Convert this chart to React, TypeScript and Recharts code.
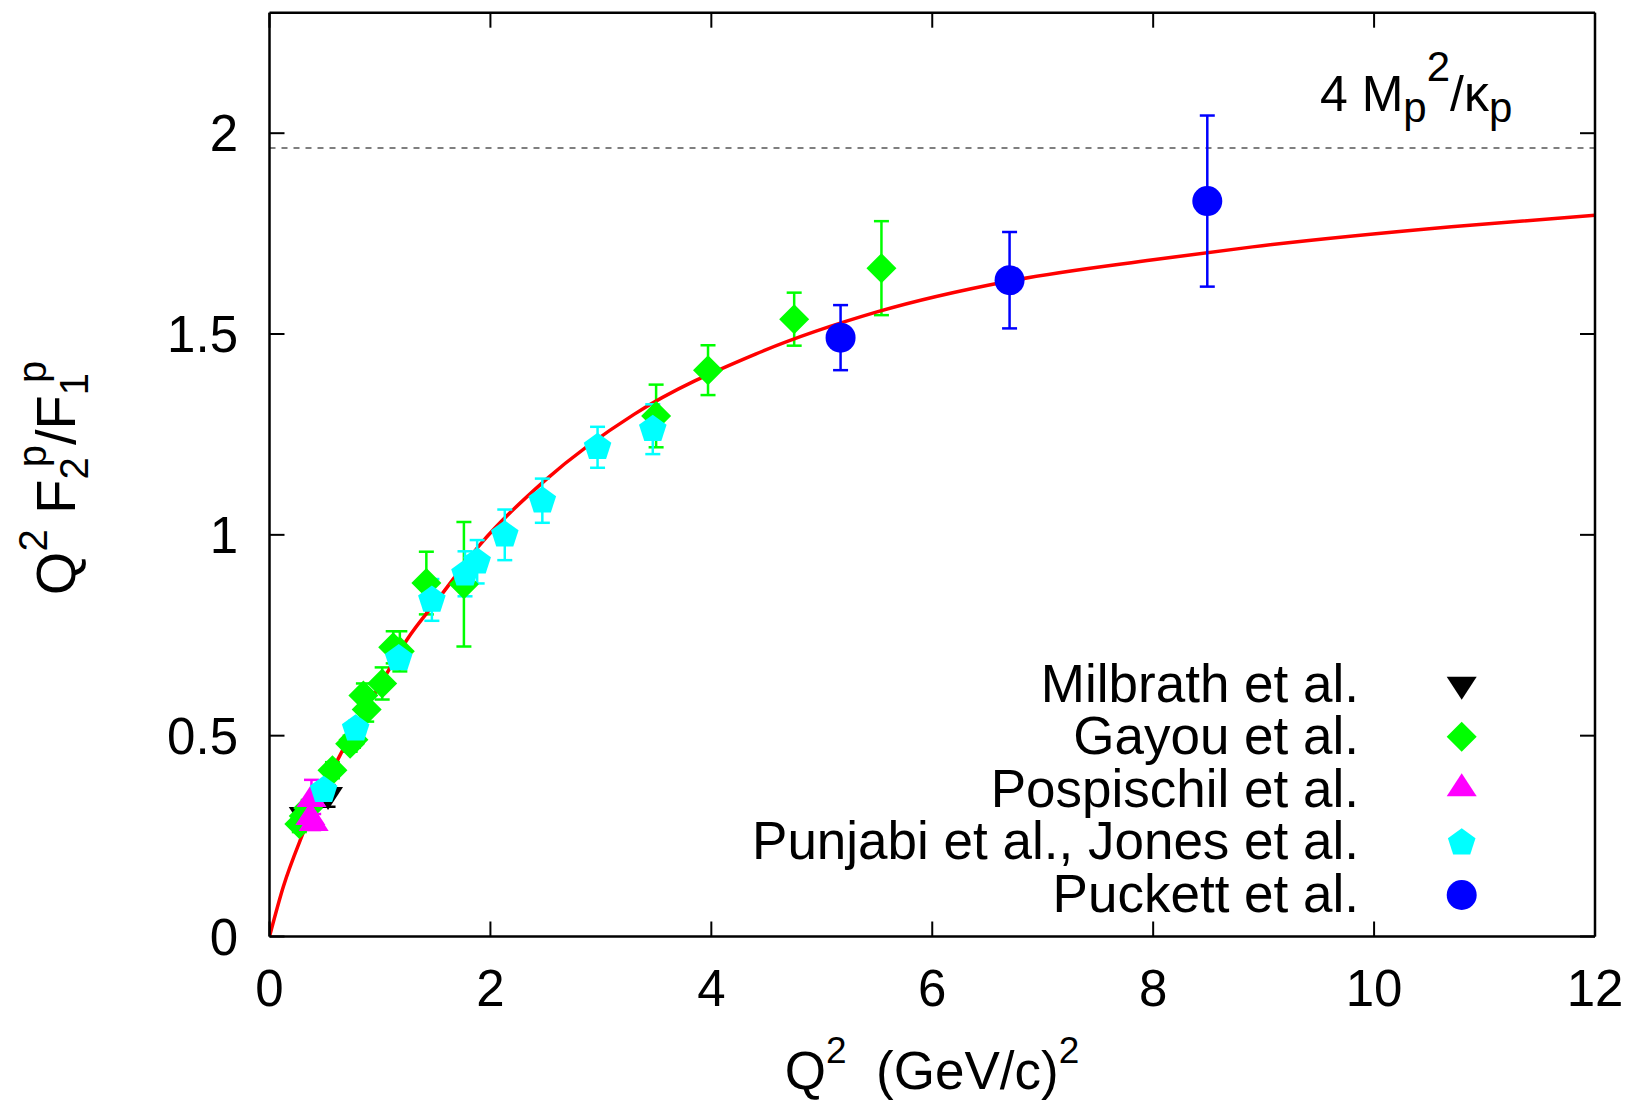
import React from 'react';
import {
  ComposedChart,
  XAxis,
  YAxis,
  Line,
  Scatter,
  ErrorBar,
  ReferenceLine,
  Legend,
  Label,
} from 'recharts';

const FONT = '"Liberation Sans", Arial, Helvetica, sans-serif';

// ---- data ----
const xTicks = [0, 2, 4, 6, 8, 10, 12];
const yTicks = [0, 0.5, 1, 1.5, 2];
const limitValue = 1.963; // 4 Mp^2 / kappa_p

const fitQ2 = [0, 0.125, 0.29, 0.67, 1.06, 1.24, 1.54, 1.91, 2.5, 3.3, 4.4, 5.5, 6.7, 8.0, 8.9, 10.7, 12];
const fitRatio = [0, 0.124, 0.248, 0.468, 0.654, 0.737, 0.845, 0.977, 1.137, 1.3, 1.45, 1.555, 1.632, 1.685, 1.717, 1.767, 1.796];

const milbrathQ2 = [0.31, 0.53];
const milbrathRatio = [0.3, 0.35];
const milbrathErr = [0.023, 0.027];

const gayouQ2 = [0.27, 0.31, 0.35, 0.57, 0.73, 0.76, 0.85, 0.88, 1.02, 1.12, 1.18, 1.42, 1.76, 3.5, 3.97, 4.75, 5.54];
const gayouRatio = [0.28, 0.3, 0.32, 0.414, 0.48, 0.49, 0.6, 0.565, 0.63, 0.72, 0.71, 0.88, 0.877, 1.296, 1.41, 1.537, 1.664];
const gayouErr = [0.02, 0.02, 0.02, 0.02, 0.02, 0.02, 0.03, 0.03, 0.04, 0.04, 0.05, 0.078, 0.155, 0.078, 0.062, 0.066, 0.117];

const pospischilQ2 = [0.37, 0.4, 0.38];
const pospischilRatio = [0.3, 0.285, 0.345];
const pospischilErr = [0.02, 0.02, 0.045];

const jonesQ2 = [0.49, 0.78, 1.17, 1.47, 1.77, 1.88, 2.13, 2.47, 2.97, 3.47];
const jonesRatio = [0.364, 0.517, 0.692, 0.838, 0.903, 0.933, 1.0, 1.085, 1.218, 1.263];
const jonesErr = [0.02, 0.02, 0.025, 0.052, 0.056, 0.054, 0.063, 0.055, 0.051, 0.062];

const puckettQ2 = [5.17, 6.7, 8.49];
const puckettRatio = [1.491, 1.634, 1.831];
const puckettErr = [0.081, 0.12, 0.213];

const seriesNames = [
  'Milbrath et al.',
  'Gayou et al.',
  'Pospischil et al.',
  'Punjabi et al., Jones et al.',
  'Puckett et al.',
];

// ---- styling ----
const BLACK = '#000000';
const GREEN = '#00ff00';
const MAGENTA = '#ff00ff';
const CYAN = '#00ffff';
const BLUE = '#0000ff';
const RED = '#ff0000';

const zip = (xs: number[], ys: number[], es?: number[]) =>
  xs.map((x, i) => (es ? { x, y: ys[i], err: es[i] } : { x, y: ys[i] }));

const fitData = zip(fitQ2, fitRatio);
const milbrathData = zip(milbrathQ2, milbrathRatio, milbrathErr);
const gayouData = zip(gayouQ2, gayouRatio, gayouErr);
const pospischilData = zip(pospischilQ2, pospischilRatio, pospischilErr);
const jonesData = zip(jonesQ2, jonesRatio, jonesErr);
const puckettData = zip(puckettQ2, puckettRatio, puckettErr);

type Kind = 'tdown' | 'diamond' | 'tup' | 'pent' | 'circle';

function marker(kind: Kind, cx: number, cy: number, color: string, key?: any) {
  if (cx == null || cy == null || isNaN(cx) || isNaN(cy)) return <g key={key} />;
  switch (kind) {
    case 'tdown':
      return (
        <polygon key={key} points={`${cx - 15},${cy - 9} ${cx + 15},${cy - 9} ${cx},${cy + 14}`} fill={color} />
      );
    case 'tup':
      return (
        <polygon key={key} points={`${cx - 15},${cy + 9} ${cx + 15},${cy + 9} ${cx},${cy - 14}`} fill={color} />
      );
    case 'diamond':
      return (
        <polygon key={key} points={`${cx},${cy - 15} ${cx + 15},${cy} ${cx},${cy + 15} ${cx - 15},${cy}`} fill={color} />
      );
    case 'pent': {
      const R = 14.5;
      const pts = [0, 1, 2, 3, 4]
        .map((k) => {
          const a = -Math.PI / 2 + (k * 2 * Math.PI) / 5;
          return `${cx + R * Math.cos(a)},${cy + R * Math.sin(a)}`;
        })
        .join(' ');
      return <polygon key={key} points={pts} fill={color} />;
    }
    default:
      return <circle key={key} cx={cx} cy={cy} r={15} fill={color} />;
  }
}

const legendKinds: Kind[] = ['tdown', 'diamond', 'tup', 'pent', 'circle'];
const legendColors = [BLACK, GREEN, MAGENTA, CYAN, BLUE];
const legendSymbolY = [685.7, 736.7, 787.3, 842.8, 895];

const renderLegend = () => (
  <svg width={1638} height={1104} style={{ position: 'absolute', left: 0, top: 0, pointerEvents: 'none' }}>
    {seriesNames.map((name, i) => (
      <g key={name}>
        <text x={1359} y={701.7 + i * 52.5} textAnchor="end" fontSize={53} fontFamily={FONT} fill={BLACK}>
          {name}
        </text>
        {marker(legendKinds[i], 1461.7, legendSymbolY[i], legendColors[i])}
      </g>
    ))}
  </svg>
);

const TICK_LEN = 15;

const BottomTick = (props: any) => {
  const { x, y, payload } = props;
  return (
    <g>
      <line x1={x} y1={y} x2={x} y2={y - TICK_LEN} stroke={BLACK} strokeWidth={2} />
      <text x={x} y={y + 69} textAnchor="middle" fontSize={51} fontFamily={FONT} fill={BLACK}>
        {payload.value}
      </text>
    </g>
  );
};

const TopTick = (props: any) => {
  const { x, y } = props;
  return <line x1={x} y1={y} x2={x} y2={y + TICK_LEN} stroke={BLACK} strokeWidth={2} />;
};

const LeftTick = (props: any) => {
  const { x, y, payload } = props;
  return (
    <g>
      <line x1={x} y1={y} x2={x + TICK_LEN} y2={y} stroke={BLACK} strokeWidth={2} />
      <text x={x - 31.5} y={y + 18} textAnchor="end" fontSize={51} fontFamily={FONT} fill={BLACK}>
        {payload.value}
      </text>
    </g>
  );
};

const RightTick = (props: any) => {
  const { x, y } = props;
  return <line x1={x} y1={y} x2={x - TICK_LEN} y2={y} stroke={BLACK} strokeWidth={2} />;
};

const XTitle = () => (
  <text x={932} y={1088.6} textAnchor="middle" fontSize={53} fontFamily={FONT} fill={BLACK} style={{ whiteSpace: 'pre' }}>
    Q
    <tspan dy={-26} fontSize={37}>2</tspan>
    <tspan dy={26} fontSize={53}>{'  (GeV/c)'}</tspan>
    <tspan dy={-26} fontSize={37}>2</tspan>
  </text>
);

const YTitle = () => (
  <text
    x={75}
    y={478}
    transform="rotate(-90, 75, 478)"
    textAnchor="middle"
    fontSize={56}
    fontFamily={FONT}
    fill={BLACK}
    style={{ whiteSpace: 'pre' }}
  >
    Q
    <tspan dy={-28} fontSize={40}>2</tspan>
    <tspan dy={28} fontSize={56}>{' F'}</tspan>
    <tspan dy={13} fontSize={40}>2</tspan>
    <tspan dx={-10} dy={-42} fontSize={40}>p</tspan>
    <tspan dy={29} fontSize={56}>/F</tspan>
    <tspan dy={13} fontSize={40}>1</tspan>
    <tspan dx={-10} dy={-42} fontSize={40}>p</tspan>
  </text>
);

const LimitLabel = () => (
  <text x={1320} y={111} fontSize={50} fontFamily={FONT} fill={BLACK}>
    4 M
    <tspan dy={11} fontSize={42}>p</tspan>
    <tspan dy={-41} fontSize={42}>2</tspan>
    <tspan dy={30} fontSize={50}>/κ</tspan>
    <tspan dy={11} fontSize={42}>p</tspan>
  </text>
);

const frame = { stroke: BLACK, strokeWidth: 2.5 };

export default function App() {
  return (
    <div style={{ position: 'absolute', left: 0, top: 0, width: 1638, height: 1104, background: '#fff' }}>
      <ComposedChart width={1638} height={1104} margin={{ top: 11.7, right: 42, left: 0, bottom: 0 }}>
        <XAxis
          xAxisId={0}
          type="number"
          dataKey="x"
          domain={[0, 12]}
          ticks={xTicks}
          interval={0}
          height={167.5}
          tickSize={0}
          tickMargin={0}
          tickLine={false}
          axisLine={frame}
          tick={<BottomTick />}
          allowDataOverflow
        >
          <Label content={() => <XTitle />} />
        </XAxis>
        <XAxis
          xAxisId="top"
          orientation="top"
          type="number"
          dataKey="x"
          domain={[0, 12]}
          ticks={xTicks}
          interval={0}
          height={1}
          tickSize={0}
          tickMargin={0}
          tickLine={false}
          axisLine={frame}
          tick={<TopTick />}
          allowDataOverflow
        />
        <YAxis
          yAxisId={0}
          type="number"
          dataKey="y"
          domain={[0, 2.3]}
          ticks={yTicks}
          interval={0}
          width={269.5}
          tickSize={0}
          tickMargin={0}
          tickLine={false}
          axisLine={frame}
          tick={<LeftTick />}
          allowDataOverflow
        >
          <Label content={() => <YTitle />} />
        </YAxis>
        <YAxis
          yAxisId="right"
          orientation="right"
          type="number"
          dataKey="y"
          domain={[0, 2.3]}
          ticks={yTicks}
          interval={0}
          width={1}
          tickSize={0}
          tickMargin={0}
          tickLine={false}
          axisLine={frame}
          tick={<RightTick />}
          allowDataOverflow
        />

        <ReferenceLine
          y={limitValue}
          stroke="#555555"
          strokeWidth={1.5}
          strokeDasharray="6 6"
          ifOverflow="visible"
        >
          <Label content={() => <LimitLabel />} />
        </ReferenceLine>

        <Scatter
          name={seriesNames[0]}
          data={milbrathData}
          isAnimationActive={false}
          shape={(p: any) => marker('tdown', p.cx, p.cy, BLACK)}
        >
          <ErrorBar dataKey="err" direction="y" width={7.5} stroke={BLACK} strokeWidth={2.5} />
        </Scatter>
        <Scatter
          name={seriesNames[1]}
          data={gayouData}
          isAnimationActive={false}
          shape={(p: any) => marker('diamond', p.cx, p.cy, GREEN)}
        >
          <ErrorBar dataKey="err" direction="y" width={7.5} stroke={GREEN} strokeWidth={2.5} />
        </Scatter>
        <Line
          data={fitData}
          dataKey="y"
          type="monotone"
          stroke={RED}
          strokeWidth={3.5}
          dot={false}
          activeDot={false}
          isAnimationActive={false}
          legendType="none"
        />
        <Scatter
          name={seriesNames[2]}
          data={pospischilData}
          isAnimationActive={false}
          shape={(p: any) => marker('tup', p.cx, p.cy, MAGENTA)}
        >
          <ErrorBar dataKey="err" direction="y" width={7.5} stroke={MAGENTA} strokeWidth={2.5} />
        </Scatter>
        <Scatter
          name={seriesNames[3]}
          data={jonesData}
          isAnimationActive={false}
          shape={(p: any) => marker('pent', p.cx, p.cy, CYAN)}
        >
          <ErrorBar dataKey="err" direction="y" width={7.5} stroke={CYAN} strokeWidth={2.5} />
        </Scatter>
        <Scatter
          name={seriesNames[4]}
          data={puckettData}
          isAnimationActive={false}
          shape={(p: any) => marker('circle', p.cx, p.cy, BLUE)}
        >
          <ErrorBar dataKey="err" direction="y" width={7.5} stroke={BLUE} strokeWidth={2.5} />
        </Scatter>

        <Legend
          layout="horizontal"
          verticalAlign="middle"
          align="center"
          content={renderLegend}
          wrapperStyle={{ position: 'absolute', left: 0, top: 0, width: 1638, height: 1104, pointerEvents: 'none' }}
        />
      </ComposedChart>
    </div>
  );
}
